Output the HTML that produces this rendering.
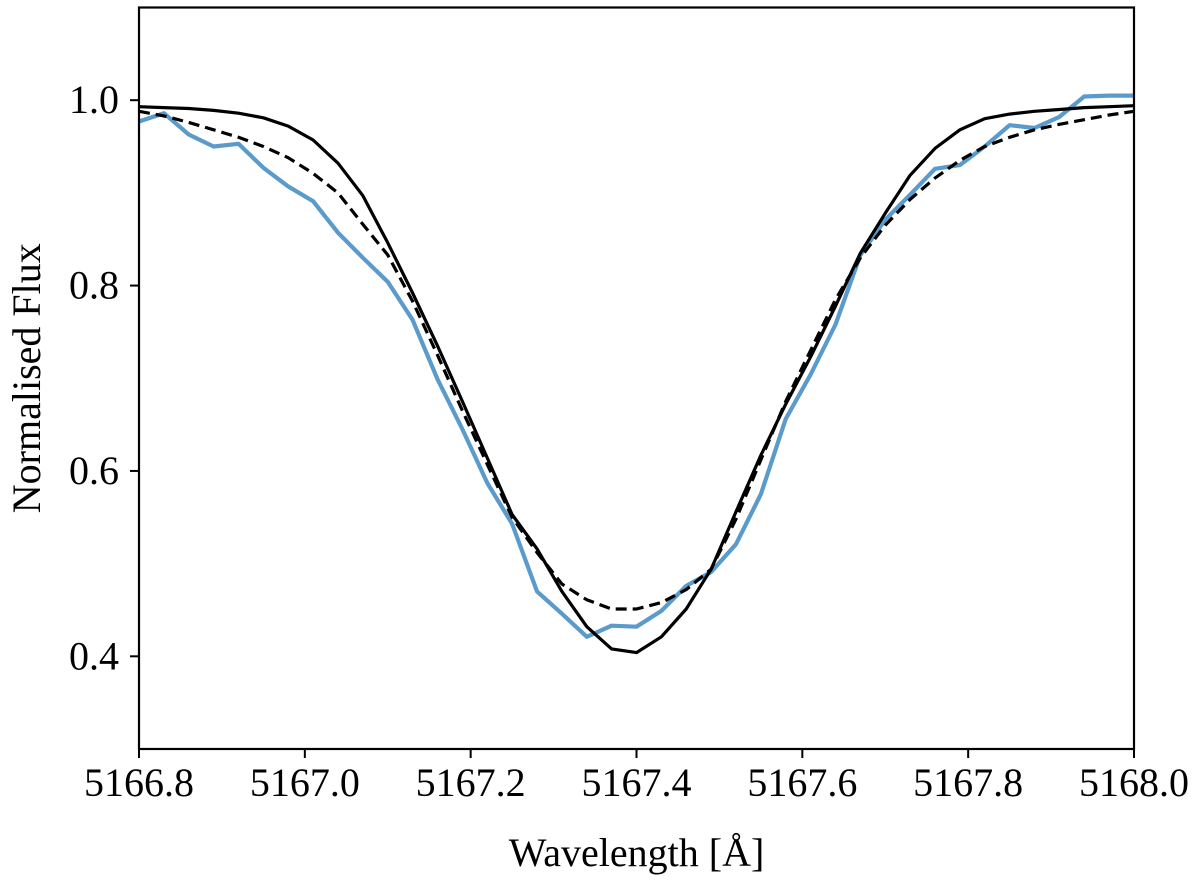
<!DOCTYPE html>
<html><head><meta charset="utf-8"><style>
html,body{margin:0;padding:0;background:#fff;}
svg{display:block;font-family:"Liberation Serif",serif;}
</style></head><body>
<svg id="chart" width="1200" height="884">
<g id="plot"></g>
</svg>
<script>
const wavelengths = [5166.80,5166.83,5166.86,5166.89,5166.92,5166.95,5166.98,5167.01,5167.04,5167.07,5167.10,5167.13,5167.16,5167.19,5167.22,5167.25,5167.28,5167.31,5167.34,5167.37,5167.40,5167.43,5167.46,5167.49,5167.52,5167.55,5167.58,5167.61,5167.64,5167.67,5167.70,5167.73,5167.76,5167.79,5167.82,5167.85,5167.88,5167.91,5167.94,5167.97,5168.00];
const observedFlux = [0.977,0.986,0.963,0.950,0.953,0.927,0.907,0.891,0.857,0.830,0.804,0.763,0.699,0.645,0.587,0.543,0.470,0.446,0.421,0.433,0.432,0.449,0.476,0.491,0.521,0.575,0.656,0.704,0.758,0.833,0.871,0.898,0.926,0.930,0.950,0.973,0.970,0.982,1.004,1.005,1.005];
const modelFlux = [0.993,0.992,0.991,0.989,0.986,0.981,0.972,0.957,0.932,0.897,0.846,0.792,0.735,0.675,0.614,0.553,0.516,0.470,0.432,0.408,0.404,0.421,0.451,0.494,0.556,0.617,0.672,0.723,0.778,0.835,0.878,0.919,0.948,0.968,0.980,0.985,0.988,0.990,0.992,0.993,0.994];
const fitFlux = [0.988,0.983,0.976,0.968,0.960,0.950,0.938,0.921,0.900,0.866,0.833,0.783,0.725,0.665,0.607,0.550,0.512,0.478,0.461,0.451,0.451,0.458,0.472,0.494,0.548,0.612,0.675,0.730,0.785,0.830,0.865,0.893,0.916,0.935,0.950,0.960,0.968,0.974,0.979,0.984,0.988];
const xTicks = [5166.8,5167.0,5167.2,5167.4,5167.6,5167.8,5168.0];
const xTickLabels = ["5166.8","5167.0","5167.2","5167.4","5167.6","5167.8","5168.0"];
const yTicks = [0.4,0.6,0.8,1.0];
const yTickLabels = ["0.4","0.6","0.8","1.0"];

const L=139,R=1134,T=7.5,B=749;
const xMin=5166.8,xMax=5168.0,yMin=0.3,yMax=1.1;
const sx=v=>L+(v-xMin)/(xMax-xMin)*(R-L);
const sy=v=>B-(v-yMin)/(yMax-yMin)*(B-T);
const NS="http://www.w3.org/2000/svg";
const g=document.getElementById('plot');
function mk(tag,attrs){const e=document.createElementNS(NS,tag);for(const k in attrs)e.setAttribute(k,attrs[k]);return e;}

const clip=mk('clipPath',{id:'c'});clip.appendChild(mk('rect',{x:L,y:T,width:R-L,height:B-T}));
const defs=mk('defs',{});defs.appendChild(clip);g.appendChild(defs);

function line(ys,stroke,w,dash,name){
  const d=wavelengths.map((wl,i)=>(i?'L':'M')+sx(wl).toFixed(1)+','+sy(ys[i]).toFixed(1)).join('');
  const p=mk('path',{d:d,fill:'none',stroke:stroke,'stroke-width':w,'stroke-linejoin':'round','clip-path':'url(#c)'});
  if(dash)p.setAttribute('stroke-dasharray',dash);
  
  
  g.appendChild(p);
}
line(observedFlux,'#5a9bcb',4.2,null,'observed-spectrum-line');
line(modelFlux,'#000',3.2,null,'model-line-solid');
line(fitFlux,'#000',3.2,'11,6','model-line-dashed');

const frame=mk('rect',{x:L,y:T,width:R-L,height:B-T,fill:'none',stroke:'#000','stroke-width':2.2});


g.appendChild(frame);

xTicks.forEach((v,i)=>{
  const x=sx(v);
  const t=mk('line',{x1:x,x2:x,y1:B,y2:B+9,stroke:'#000','stroke-width':2});
  
  
  g.appendChild(t);
  const tx=mk('text',{x:x,y:B+47,'text-anchor':'middle','font-size':40});
  tx.textContent=xTickLabels[i];
  
  
  g.appendChild(tx);
});
yTicks.forEach((v,i)=>{
  const y=sy(v);
  const t=mk('line',{x1:L-9,x2:L,y1:y,y2:y,stroke:'#000','stroke-width':2});
  
  
  g.appendChild(t);
  const tx=mk('text',{x:L-20,y:y+13,'text-anchor':'end','font-size':40});
  tx.textContent=yTickLabels[i];
  
  
  g.appendChild(tx);
});
const xl=mk('text',{x:(L+R)/2,y:866,'text-anchor':'middle','font-size':40});
xl.textContent='Wavelength [Å]';


g.appendChild(xl);
const yl=mk('text',{x:0,y:0,'text-anchor':'middle','font-size':40,transform:'translate(40,'+((T+B)/2)+') rotate(-90)'});
yl.textContent='Normalised Flux';


g.appendChild(yl);
</script>
</body></html>
